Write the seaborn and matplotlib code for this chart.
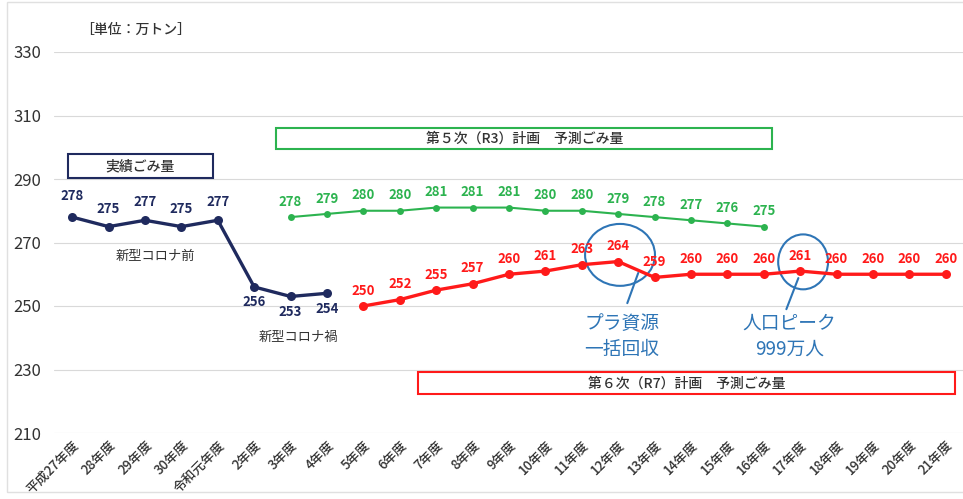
import numpy as np
import pandas as pd
import seaborn as sns
import matplotlib.pyplot as plt
from matplotlib.patches import Ellipse, Rectangle

years = ["平成27年度", "28年度", "29年度", "30年度", "令和元年度", "2年度", "3年度", "4年度",
         "5年度", "6年度", "7年度", "8年度", "9年度", "10年度", "11年度", "12年度", "13年度",
         "14年度", "15年度", "16年度", "17年度", "18年度", "19年度", "20年度", "21年度"]

actual_years = years[0:8]
actual = [278, 275, 277, 275, 277, 256, 253, 254]

plan5_years = years[6:20]
plan5 = [278, 279, 280, 280, 281, 281, 281, 280, 280, 279, 278, 277, 276, 275]

plan6_years = years[8:25]
plan6 = [250, 252, 255, 257, 260, 261, 263, 264, 259, 260, 260, 260, 261, 260, 260, 260, 260]

NAVY = "#1f2a5e"
GREEN = "#2cb34f"
RED = "#ff1a1a"
BLUE = "#2e75b6"

sns.set_theme(style="white")
plt.rcParams['font.family'] = ['Noto Sans CJK JP', 'DejaVu Sans']

pos = {y: i for i, y in enumerate(years)}
df_a = pd.DataFrame({"x": [pos[y] for y in actual_years], "v": actual})
df_5 = pd.DataFrame({"x": [pos[y] for y in plan5_years], "v": plan5})
df_6 = pd.DataFrame({"x": [pos[y] for y in plan6_years], "v": plan6})

fig = plt.figure(figsize=(9.63, 4.99), dpi=100)
ax = fig.add_axes([54 / 963, 1 - 433 / 499, 910 / 963, 381 / 499])

sns.lineplot(data=df_a, x="x", y="v", ax=ax, color=NAVY, lw=2.4, marker="o", ms=6.5,
             markeredgewidth=0)
sns.lineplot(data=df_5, x="x", y="v", ax=ax, color=GREEN, lw=1.5, marker="o", ms=5,
             markeredgewidth=0)
sns.lineplot(data=df_6, x="x", y="v", ax=ax, color=RED, lw=2.4, marker="o", ms=6.5,
             markeredgewidth=0)

lab_kw = dict(textcoords="offset points", ha="center", va="center", fontsize=9.5,
              fontweight="bold")
for i, (x, v) in enumerate(zip(df_a["x"], df_a["v"])):
    dy = 13 if i < 5 else -11
    if i == 0:
        dy = 15
    ax.annotate(str(v), (x, v), xytext=(0, dy), color=NAVY, **lab_kw)
for x, v in zip(df_5["x"], df_5["v"]):
    ax.annotate(str(v), (x, v), xytext=(0, 11), color=GREEN, **lab_kw)
for x, v in zip(df_6["x"], df_6["v"]):
    ax.annotate(str(v), (x, v), xytext=(0, 11), color=RED, **lab_kw)

ax.set_xlim(-0.5, len(years) - 0.5)
ax.set_ylim(210, 330)
ax.set_yticks(range(210, 331, 20))
ax.set_xticks(range(len(years)))
ax.set_xticklabels(years, rotation=45, ha="right", rotation_mode="anchor", fontsize=9.5,
                   fontweight="medium", color="#333333")
ax.set_xticks(np.arange(-0.5, len(years), 1), minor=True)
ax.tick_params(axis="x", which="major", length=0, pad=4)
ax.tick_params(axis="x", which="minor", length=4, color="#d9d9d9", width=0.8)
ax.tick_params(axis="y", length=0, labelsize=12, pad=9)
for t in ax.get_yticklabels():
    t.set_color("#333333")
ax.set_xlabel("")
ax.set_ylabel("")
ax.yaxis.grid(True, color="#d9d9d9", lw=0.8)
ax.set_axisbelow(True)
for s in ax.spines.values():
    s.set_visible(False)

# boxes
ax.add_patch(Rectangle((-0.11, 290.3), 3.98, 7.6, fill=False, ec=NAVY, lw=1.5))
ax.text(1.87, 294.1, "実績ごみ量", ha="center", va="center", fontsize=10, color="#333333",
        fontweight="medium")
ax.add_patch(Rectangle((5.6, 299.4), 13.63, 6.7, fill=False, ec=GREEN, lw=1.5))
ax.text(12.42, 302.8, "第５次（R3）計画　予測ごみ量", ha="center", va="center", fontsize=10,
        color="#333333", fontweight="medium")
ax.add_patch(Rectangle((9.5, 222.3), 14.76, 6.9, fill=False, ec=RED, lw=1.5))
ax.text(16.87, 225.7, "第６次（R7）計画　予測ごみ量", ha="center", va="center", fontsize=10,
        color="#333333", fontweight="medium")

ax.text(2.28, 265.7, "新型コロナ前", ha="center", va="center", fontsize=9.5, color="#333333")
ax.text(6.2, 240.0, "新型コロナ禍", ha="center", va="center", fontsize=9.5, color="#333333")

# callouts
ax.add_patch(Ellipse((15.05, 266.1), 1.92, 19.5, fill=False, ec=BLUE, lw=1.5))
ax.plot([15.55, 15.25], [260.4, 250.9], color=BLUE, lw=1.5)
ax.text(15.1, 240.4, "プラ資源\n一括回収", ha="center", va="center", fontsize=13.5,
        color=BLUE, linespacing=1.3)
ax.add_patch(Ellipse((20.08, 263.9), 1.37, 17.3, fill=False, ec=BLUE, lw=1.5))
ax.plot([19.95, 19.62], [258.8, 249.0], color=BLUE, lw=1.5)
ax.text(19.7, 240.4, "人口ピーク\n999万人", ha="center", va="center", fontsize=13.5,
        color=BLUE, linespacing=1.3)

fig.text(80 / 963, 1 - 30 / 499, "［単位：万トン］", ha="left", va="center", fontsize=10,
         color="#333333", fontweight="medium")

fig.add_artist(Rectangle((7 / 963, 7 / 499), 960 / 963, 490 / 499, fill=False,
                         ec="#e0e0e0", lw=1, transform=fig.transFigure))

plt.savefig("out.png", dpi=100)
